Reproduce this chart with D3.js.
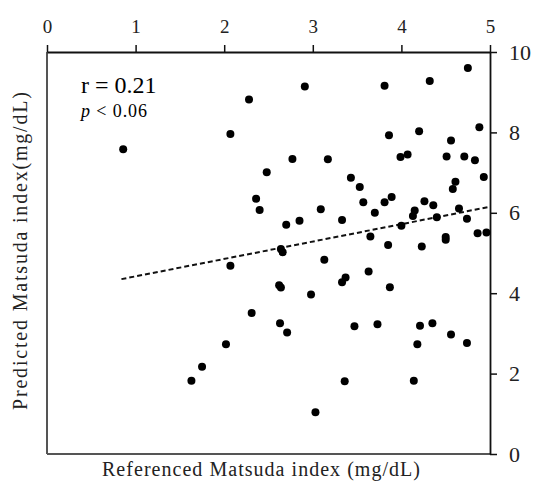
<!DOCTYPE html>
<html>
<head>
<meta charset="utf-8">
<script src="https://cdn.jsdelivr.net/npm/d3@7"></script>
<style>
  body { margin: 0; background: #fff; }
  text { font-family: "Liberation Serif", "Times New Roman", Times, serif; }
</style>
</head>
<body>
<div id="chart"></div>
<script>
// referenced (x) vs predicted (y) Matsuda index
const refIndex = [
  0.86, 2.07, 2.28, 2.77, 2.48, 2.36, 2.40, 2.70, 2.91, 3.81,
  4.32, 4.75, 4.88, 4.20, 3.86, 4.56, 3.17, 3.99, 4.07, 4.51,
  4.71, 4.83, 4.93, 3.43, 3.53, 4.61, 4.58, 3.57, 3.81, 3.89,
  4.26, 4.36, 4.65, 3.09, 3.70, 4.15, 4.13, 4.40, 4.74, 2.85,
  3.33, 4.00, 3.65, 4.50, 4.50, 4.86, 4.96, 3.85, 4.23, 2.64,
  2.66, 3.13, 3.63, 3.33, 3.37, 3.87, 2.62, 2.64, 2.98, 2.63,
  2.71, 3.47, 3.73, 4.21, 4.35, 4.18, 4.56, 4.74, 3.36, 4.14,
  3.03, 2.07, 2.31, 2.02, 1.75, 1.63
];
const predIndex = [
  7.58, 7.96, 8.82, 7.34, 7.01, 6.35, 6.07, 5.70, 9.14, 9.16,
  9.28, 9.60, 8.13, 8.03, 7.93, 7.80, 7.33, 7.39, 7.45, 7.40,
  7.40, 7.31, 6.89, 6.87, 6.64, 6.77, 6.59, 6.26, 6.26, 6.39,
  6.29, 6.19, 6.11, 6.09, 6.00, 6.06, 5.92, 5.89, 5.85, 5.80,
  5.82, 5.68, 5.41, 5.40, 5.33, 5.49, 5.51, 5.20, 5.16, 5.10,
  5.02, 4.83, 4.54, 4.27, 4.39, 4.15, 4.20, 4.14, 3.97, 3.25,
  3.02, 3.18, 3.23, 3.19, 3.25, 2.73, 2.97, 2.76, 1.81, 1.82,
  1.04, 4.68, 3.51, 2.73, 2.17, 1.82
];

// fitted line ends (dashed)
const fitX = [0.84, 5];
const fitY = [4.35, 6.15];

const xTicks = [0, 1, 2, 3, 4, 5];
const yTicks = [0, 2, 4, 6, 8, 10];

const width = 535;
const height = 489;
const margin = { top: 52, right: 45, bottom: 35, left: 47 };

const svg = d3.select("#chart")
  .append("svg")
  .attr("width", width)
  .attr("height", height)
  .style("display", "block");

const x = d3.scaleLinear().domain([0, 5]).range([margin.left, width - margin.right]);
const y = d3.scaleLinear().domain([0, 10]).range([height - margin.bottom, margin.top]);

// left + bottom frame lines are greyer than the two axes
svg.append("line")
  .attr("x1", x(0)).attr("x2", x(0))
  .attr("y1", y(10)).attr("y2", y(0))
  .attr("stroke", "#555").attr("stroke-width", 2);
svg.append("line")
  .attr("x1", x(0)).attr("x2", x(5))
  .attr("y1", y(0)).attr("y2", y(0))
  .attr("stroke", "#555").attr("stroke-width", 2);

// top axis
const topAxis = svg.append("g")
  .attr("transform", `translate(0,${y(10)})`)
  .call(d3.axisTop(x).tickValues(xTicks).tickSize(7).tickSizeOuter(0).tickPadding(12).tickFormat(d3.format("d")));

// right axis
const rightAxis = svg.append("g")
  .attr("transform", `translate(${x(5)},0)`)
  .call(d3.axisRight(y).tickValues(yTicks).tickSize(7).tickSizeOuter(0).tickPadding(12).tickFormat(d3.format("d")));

topAxis.selectAll("text").style("font-size", "19px").attr("fill", "#222");
rightAxis.selectAll("text").style("font-size", "22px").attr("fill", "#222");
svg.selectAll(".domain, .tick line").attr("stroke", "#111").attr("stroke-width", 1.5);
svg.selectAll(".domain").attr("stroke-width", 1.8);

// fit line
svg.append("path")
  .datum(d3.zip(fitX, fitY))
  .attr("d", d3.line().x(d => x(d[0])).y(d => y(d[1])))
  .attr("fill", "none")
  .attr("stroke", "#111")
  .attr("stroke-width", 2)
  .attr("stroke-dasharray", "5,3");

// points
svg.append("g")
  .selectAll("circle")
  .data(d3.zip(refIndex, predIndex))
  .enter()
  .append("circle")
  .attr("cx", d => x(d[0]))
  .attr("cy", d => y(d[1]))
  .attr("r", 4)
  .attr("fill", "#000");

// stats text
svg.append("text")
  .attr("x", 81)
  .attr("y", 93)
  .style("font-size", "24px")
  .text("r = 0.21");

const pText = svg.append("text")
  .attr("x", 81)
  .attr("y", 117)
  .style("font-size", "18px")
  .attr("textLength", 66);
pText.append("tspan").style("font-style", "italic").text("p");
pText.append("tspan").text(" < 0.06");

// axis titles
svg.append("text")
  .attr("x", 261)
  .attr("y", 476)
  .attr("text-anchor", "middle")
  .style("font-size", "20px")
  .attr("fill", "#222")
  .attr("textLength", 318)
  .text("Referenced Matsuda index (mg/dL)");

svg.append("text")
  .attr("transform", "translate(27,251) rotate(-90)")
  .attr("text-anchor", "middle")
  .style("font-size", "20px")
  .attr("fill", "#222")
  .attr("textLength", 318)
  .text("Predicted Matsuda index(mg/dL)");
</script>
</body>
</html>
